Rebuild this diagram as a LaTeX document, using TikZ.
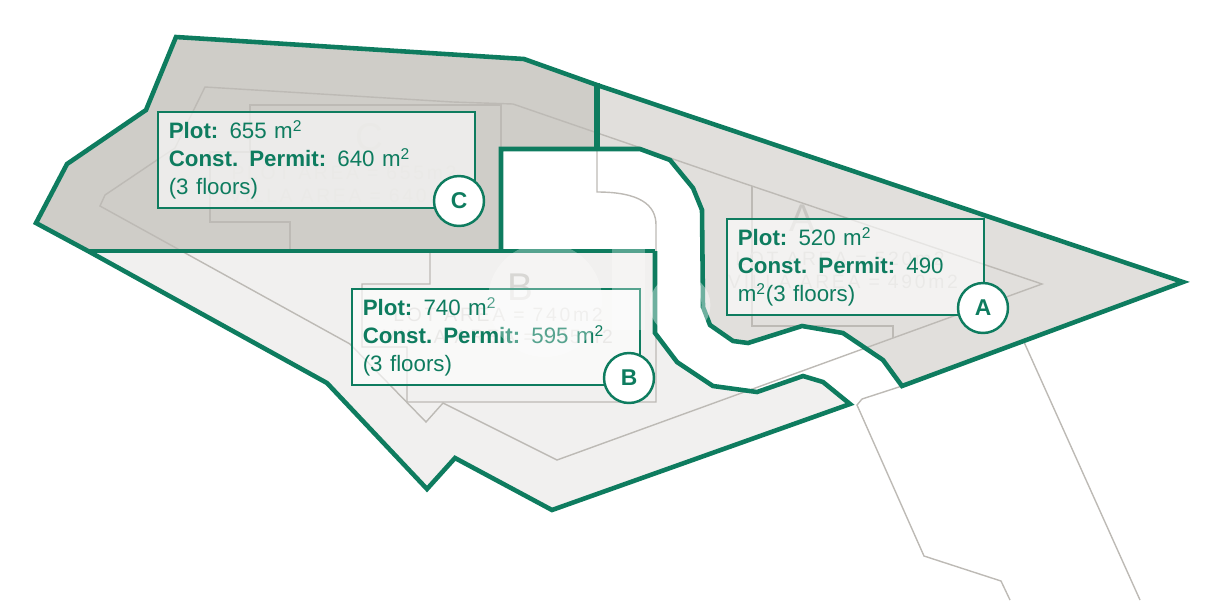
\documentclass[tikz,border=0pt]{standalone}
\usepackage{fontspec}
\setmainfont{Liberation Sans}
\newfontfamily\ghostfont[LetterSpace=14]{Liberation Sans}
\usetikzlibrary{positioning}
\definecolor{plotgreen}{HTML}{0E7C5F}
\definecolor{plotc}{HTML}{CFCDC8}
\definecolor{plota}{HTML}{E1DFDC}
\definecolor{plotb}{HTML}{F1F0EF}
\definecolor{planline}{HTML}{BDBAB5}
\definecolor{ghostgray}{HTML}{C8C6C2}
\tikzset{
	edge/.style={draw=plotgreen,line width=2.6pt,line join=miter},
	plan/.style={draw=planline,line width=0.8pt},
	infobox/.style={draw=plotgreen,line width=0.9pt,fill=white,fill opacity=0.62,text opacity=1,draw opacity=1,anchor=north west,
		inner xsep=0.22cm,inner ysep=0.17cm,minimum height=1.92cm,align=left,text=plotgreen,font=\fontsize{12.7}{15.9}\selectfont},
	tag/.style={circle,draw=plotgreen,line width=1.4pt,fill=white,minimum size=1cm,inner sep=0pt,text=plotgreen,font=\fontsize{13}{15.9}\selectfont\bfseries},
	ghost/.style={text=ghostgray,inner sep=0pt,font=\fontsize{11}{13}\ghostfont},
}
\begin{document}
\begin{tikzpicture}[x=0.02cm,y=-0.02cm]
	\useasboundingbox (0,0) rectangle (1224,600);

	\fill[plotc] (176,37) -- (524,59) -- (597,85) -- (597,149) -- (501,149) -- (501,251) -- (88,251) -- (36,223) -- (67,164) -- (146,110) -- cycle;
	\fill[plota] (597,85) -- (1183,282) -- (902,386) -- (883,360) -- (843,333) -- (802,326) -- (748,343) -- (733,341) -- (710,325) -- (703,307) -- (702,210) -- (693,188) -- (670,160) -- (640,149) -- (597,149) -- cycle;
	\fill[plotb] (88,251) -- (655,251) -- (655,333) -- (677,362) -- (713,386) -- (757,392) -- (803,376) -- (823,382) -- (850,404) -- (552,510) -- (455,458) -- (427,489) -- (327,383) -- cycle;

	\draw[plan] (453,102) -- (205,87) -- (175,148) -- (157,160) -- (105,195) -- (100,206) -- (350,344) -- (426,422) -- (443,403) -- (557,460) -- (893,338) -- (1042,284) -- (740,182) -- (513,104) -- (453,102);
	\draw[plan] (290,251) -- (290,222) -- (210,222) -- (210,152) -- (250,152) -- (250,105) -- (501,105) -- (501,149);
	\draw[plan] (752,186) -- (752,326) -- (893,326) -- (893,338);
	\draw[plan] (430,251) -- (430,284) -- (362,284) -- (362,347) -- (407,347) -- (407,402) -- (656,402) -- (656,225) .. controls (656,205) and (640,192) .. (597,192) -- (597,149);
	\draw[plan] (902,386) -- (862,399) -- (857,405) -- (924,556) -- (1001,581) -- (1010,600);
	\draw[plan] (1024,342) -- (1140,600);

	\node[ghost] (ghostC) at (369,137) {\fontsize{22}{24}\selectfont C};
	\node[ghost] (ghostCa) at (344,173) {PLOT AREA = 655m2};
	\node[ghost] (ghostCb) at (344,196) {VILLA AREA = 640m2};
	\node[ghost] (ghostB) at (520,287) {\fontsize{22}{24}\selectfont B};
	\node[ghost] (ghostBa) at (498,315) {LOT AREA = 740m2};
	\node[ghost] (ghostBb) at (498,337) {VILLA AREA = 595m2};
	\node[ghost] (ghostA) at (802,218) {\fontsize{22}{24}\selectfont A};
	\node[ghost] (ghostAa) at (840,259) {LOT AREA = 520m2};
	\node[ghost] (ghostAb) at (843,282) {VILLA AREA = 490m2};

	\draw[edge] (597,85) -- (524,59) -- (176,37) -- (146,110) -- (67,164) -- (36,223) -- (88,251) -- (327,383) -- (427,489) -- (455,458) -- (552,510) -- (850,404) -- (823,382) -- (803,376) -- (757,392) -- (713,386) -- (677,362) -- (655,333) -- (655,251);
	\draw[edge] (88,251) -- (655,251);
	\draw[edge] (501,251) -- (501,149) -- (640,149) -- (670,160) -- (693,188) -- (702,210) -- (703,307) -- (710,325) -- (733,341) -- (748,343) -- (802,326) -- (843,333) -- (883,360) -- (902,386) -- (1183,282) -- (597,85);
	\draw[edge,line width=3.6pt] (597,83) -- (597,149);

	\node[infobox,minimum width=6.34cm,text width=5.9cm] (boxC) at (157,111) {\textbf{Plot:} 655 m\textsuperscript{2}\\\textbf{Const. Permit:} 640 m\textsuperscript{2}\\(3 floors)};
	\node[infobox,minimum width=5.76cm,text width=5.32cm] (boxB) at (351,288) {\textbf{Plot:} 740 m\textsuperscript{2}\\\textbf{Const. Permit:} 595 m\textsuperscript{2}\\(3 floors)};
	\node[infobox,minimum width=5.14cm,text width=4.7cm] (boxA) at (726,218) {\textbf{Plot:} 520 m\textsuperscript{2}\\\textbf{Const. Permit:} 490\\m\textsuperscript{2}(3 floors)};

	\node[tag] (tagC) at (459,201) {C};
	\node[tag] (tagB) at (629,378) {B};
	\node[tag] (tagA) at (983,308) {A};

	% faint mark over the plan
	\fill[white,opacity=0.3] (545,300) circle (57);
	\fill[white,opacity=0.3] (612,245) rectangle (645,330);
	\draw[white,opacity=0.4,line width=5pt] (680,305) circle (26);
\end{tikzpicture}
\end{document}
